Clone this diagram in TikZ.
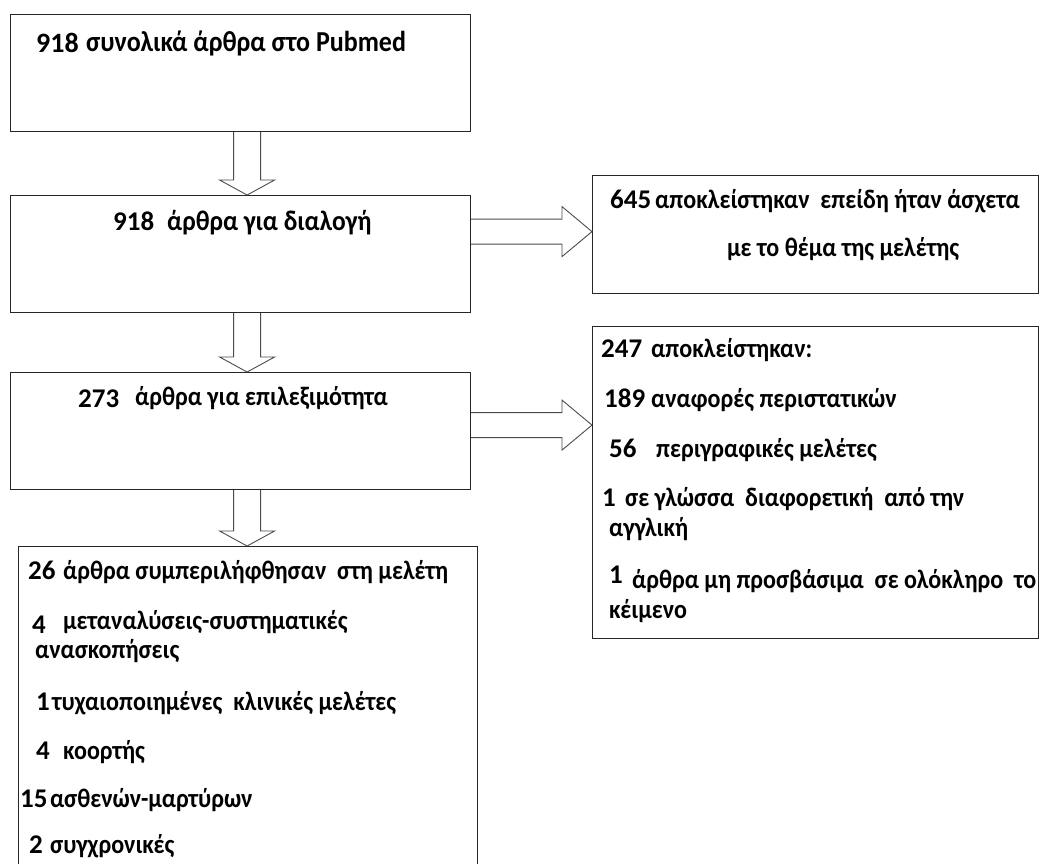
\documentclass[tikz,border=0pt]{standalone}
\usepackage{fontspec}
\setmainfont{Carlito}
\newfontfamily\gkfont[FakeStretch=0.9]{Carlito}
\usetikzlibrary{calc}
\tikzset{
  box/.style={draw=black!85, line width=1.2pt, inner sep=0pt, anchor=north west},
  arr/.style={draw=black!70, line width=0.9pt, line join=miter},
  txt/.style={anchor=base west, inner sep=0pt, font=\gkfont\bfseries\fontsize{26.7}{30}\selectfont},
  bigtxt/.style={txt, font=\gkfont\bfseries\fontsize{28.9}{32}\selectfont},
  num/.style={anchor=base west, inner sep=0pt, font=\bfseries\fontsize{27}{30}\selectfont},
}
\newcommand\dnarr[3]{%
  \coordinate (t) at ($(#1.south)+(#3,0)$);
  \coordinate (h) at (t |- #2.north);
  \draw[arr] ($(t)+(-13.5,0)$) -- ($(h)+(-13.5,-15)$) -- ($(h)+(-27.5,-15)$) -- (h)
     -- ($(h)+(27.5,-15)$) -- ($(h)+(13.5,-15)$) -- ($(t)+(13.5,0)$);}
\newcommand\rtarr[3]{%
  \coordinate (t) at ($(#1.east)+(0,#3)$);
  \coordinate (h) at (#2.west |- t);
  \draw[arr] ($(t)+(0,-12.5)$) -- ($(h)+(-30,-12.5)$) -- ($(h)+(-30,-25)$) -- (h)
     -- ($(h)+(-30,25)$) -- ($(h)+(-30,12.5)$) -- ($(t)+(0,12.5)$);}
\begin{document}
\begin{tikzpicture}[x=1pt,y=-1pt]
\clip (0,0) rectangle (1040,863);
\fill[white] (0,0) rectangle (1040,863);
% boxes
\node[box, minimum width=460pt, minimum height=117pt] (b1) at (10,14) {};
\node[box, minimum width=460pt, minimum height=117pt] (b2) at (10,195) {};
\node[box, minimum width=460pt, minimum height=117pt] (b3) at (10,372) {};
\node[box, minimum width=459pt, minimum height=360pt] (b4) at (18,546) {};
\node[box, minimum width=446pt, minimum height=118pt] (b5) at (592,175) {};
\node[box, minimum width=446pt, minimum height=312pt] (b6) at (592,326) {};
% arrows
\dnarr{b1}{b2}{6.5}
\dnarr{b2}{b3}{6.5}
\dnarr{b3}{b4}{6.5}
\rtarr{b2}{b5}{-22.5}
\rtarr{b3}{b6}{-6}
% texts box1
\node[num, font=\bfseries\fontsize{28}{30}\selectfont] (n1) at (36,52) {918};
\node[bigtxt] (t1) at (86,51) {συνολικά άρθρα στο Pubmed};
% box2
\node[num] (n2) at (113,230) {918};
\node[bigtxt, font=\gkfont\bfseries\fontsize{28.3}{32}\selectfont] (t2) at (167,230) {άρθρα για διαλογή};
% box3
\node[num] (n3) at (78,407) {273};
\node[txt] (t3) at (135,405) {άρθρα για επιλεξιμότητα};
% box5
\node[num] (n5) at (610,208) {645};
\node[txt] (t5) at (655,208) {αποκλείστηκαν\ \ επείδη ήταν άσχετα};
\node[txt] (t5b) at (727,256) {με το θέμα της μελέτης};
% box6
\node[num] (n6a) at (601,357) {247};
\node[txt] (t6a) at (651,357) {αποκλείστηκαν:};
\node[num] (n6b) at (604,407) {189};
\node[txt] (t6b) at (651,407) {αναφορές περιστατικών};
\node[num] (n6c) at (609,457) {56};
\node[txt] (t6c) at (656,457) {περιγραφικές μελέτες};
\node[num] (n6d) at (602,506) {1};
\node[txt] (t6d) at (625,506) {σε γλώσσα\ \ διαφορετική\ \ από την};
\node[txt] (t6e) at (609,536) {αγγλική};
\node[num] (n6f) at (609,583) {1};
\node[txt] (t6f) at (632,588) {άρθρα μη προσβάσιμα\ \ σε ολόκληρο\ \ το};
\node[txt] (t6g) at (609,618) {κέιμενο};
% box4
\node[num] (n4a) at (28,579) {26};
\node[txt] (t4a) at (63,579) {άρθρα συμπεριλήφθησαν\ \ στη μελέτη};
\node[num] (n4b) at (32,633) {4};
\node[txt] (t4b) at (63,629) {μεταναλύσεις-συστηματικές};
\node[txt] (t4c) at (35,658) {ανασκοπήσεις};
\node[num] (n4d) at (36,710) {1};
\node[txt] (t4d) at (52,710) {τυχαιοποιημένες\ \ κλινικές μελέτες};
\node[num] (n4e) at (36,759) {4};
\node[txt] (t4e) at (63,759) {κοορτής};
\node[num] (n4f) at (20,807) {15};
\node[txt] (t4f) at (50,807) {ασθενών-μαρτύρων};
\node[num] (n4g) at (29,853) {2};
\node[txt] (t4g) at (50,853) {συγχρονικές};
\end{tikzpicture}
\end{document}
